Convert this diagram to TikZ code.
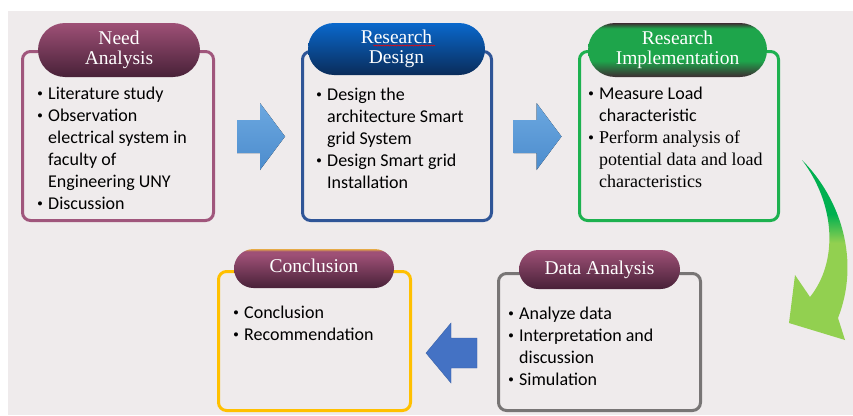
\documentclass[tikz,border=0pt]{standalone}
\usepackage{fontspec}
\setmainfont{Liberation Serif}
\newfontfamily\calfont{Carlito}
\usetikzlibrary{shapes.misc,decorations.pathmorphing}

\definecolor{bg}{RGB}{239,235,236}
\definecolor{needcol}{RGB}{160,86,124}
\definecolor{designcol}{RGB}{47,85,151}
\definecolor{implcol}{RGB}{29,177,79}
\definecolor{datacol}{RGB}{120,117,117}
\definecolor{conccol}{RGB}{255,192,0}
\definecolor{plumtop}{RGB}{158,80,118}
\definecolor{plumbot}{RGB}{72,33,56}
\definecolor{bluetop}{RGB}{10,104,204}
\definecolor{bluebot}{RGB}{10,44,90}
\definecolor{greenmid}{RGB}{30,165,75}
\definecolor{greendark}{RGB}{62,44,50}
\definecolor{goldtop}{RGB}{230,170,70}
\definecolor{arrowtop}{RGB}{108,168,224}
\definecolor{arrowbot}{RGB}{76,140,205}
\definecolor{backarrow}{RGB}{68,114,196}
\definecolor{arrowdark}{RGB}{0,176,80}
\definecolor{arrowlight}{RGB}{146,208,80}

\pgfdeclareverticalshading{greenbend}{100bp}{color(0bp)=(arrowlight); color(52bp)=(arrowlight); color(60bp)=(arrowdark); color(100bp)=(arrowdark)}
\pgfdeclareverticalshading{greenpill}{100bp}{color(0bp)=(greendark); color(25bp)=(greendark); color(40bp)=(greenmid); color(70bp)=(greenmid); color(75bp)=(greendark); color(100bp)=(greendark)}
\pgfdeclareverticalshading{goldpill}{100bp}{color(0bp)=(plumbot); color(25bp)=(plumbot); color(68bp)=(plumtop); color(72bp)=(plumtop); color(75bp)=(goldtop); color(100bp)=(goldtop)}

\newcommand\bul{\makebox[11pt][l]{\rmfamily\fontsize{17}{17}\selectfont\textbullet}}
\newcommand\bodyfont{\calfont\fontsize{18}{22}\selectfont}
\newcommand\serifbody{\rmfamily\fontsize{18}{21}\selectfont}

\tikzset{
  framebox/.style={draw, line width=3pt, rounded corners=8pt, fill=bg},
  titlepill/.style={rounded rectangle, text=white, align=center, inner sep=0pt,
    font=\fontsize{19.5}{19.5}\selectfont},
  plumpill/.style={titlepill, top color=plumtop, bottom color=plumbot},
  bodytext/.style={anchor=base west, inner sep=0pt, font=\bodyfont},
  blockarrow/.style={top color=arrowtop, bottom color=arrowbot},
}

\begin{document}
\begin{tikzpicture}[x=1pt,y=-1pt]

  \useasboundingbox (0,0) rectangle (853,415);
  \fill[bg] (8,11) rectangle (853,415);

  % frames
  \node[framebox, draw=needcol, minimum width=191pt, minimum height=169pt] (need) at (118,136) {};
  \node[framebox, draw=designcol, minimum width=189pt, minimum height=169pt] (design) at (397,136) {};
  \node[framebox, draw=implcol, minimum width=199pt, minimum height=169pt] (impl) at (679,136) {};
  \node[framebox, draw=datacol, minimum width=202pt, minimum height=137pt] (data) at (599.5,342) {};
  \node[framebox, draw=conccol, minimum width=192pt, minimum height=139pt] (conc) at (314.5,341) {};

  % title pills
  \node[plumpill, minimum width=162pt, minimum height=54pt] (needT) at (119,50) {Need\\Analysis};
  \node[titlepill, top color=bluetop, bottom color=bluebot, minimum width=177pt, minimum height=52pt]
    (designT) at (396.5,49) {Research\\Design};
  \node[titlepill, shading=greenpill, minimum width=179pt, minimum height=54pt]
    (implT) at (677.5,50) {Research\\Implementation};
  \node[plumpill, minimum width=161pt, minimum height=39pt] (dataT) at (599.5,269.5) {Data Analysis};
  \node[titlepill, shading=goldpill, minimum width=160pt, minimum height=39pt]
    (concT) at (314,268.5) {\strut Conclusion};

  \draw[red, line width=0.5pt, decorate, decoration={snake, amplitude=0.6pt, segment length=2.4pt}]
    ([xshift=-23.5pt,yshift=3.5pt]designT.center) -- ([xshift=38.5pt,yshift=3.5pt]designT.center);

  % bullet lists
  \node[bodytext] (needL) at (37,99) {\begin{tabular}[t]{@{}l@{}l@{}}
    \bul & Literature study\\
    \bul & Observation\\
         & electrical system in\\
         & faculty of\\
         & Engineering UNY\\
    \bul & Discussion
  \end{tabular}};

  \node[bodytext] (designL) at (316,100) {\begin{tabular}[t]{@{}l@{}l@{}}
    \bul & Design the\\
         & architecture Smart\\
         & grid System\\
    \bul & Design Smart grid\\
         & Installation
  \end{tabular}};

  \node[bodytext] (implL) at (588,99) {\begin{tabular}[t]{@{}l@{}l@{}}
    \bul & Measure Load\\
         & characteristic\\
    {\serifbody\bul} & {\serifbody Perform analysis of}\\
         & {\serifbody potential data and load}\\
         & {\serifbody characteristics}
  \end{tabular}};

  \node[bodytext] (dataL) at (508,319) {\begin{tabular}[t]{@{}l@{}l@{}}
    \bul & Analyze data\\
    \bul & Interpretation and\\
         & discussion\\
    \bul & Simulation
  \end{tabular}};

  \node[bodytext] (concL) at (233,318) {\begin{tabular}[t]{@{}l@{}l@{}}
    \bul & Conclusion\\
    \bul & Recommendation
  \end{tabular}};

  % block arrows
  \coordinate (ar1) at (261,136.5);
  \coordinate (ar2) at (537.5,136.5);
  \coordinate (ar3) at (451.5,353);

  \fill[blockarrow] (ar1) ++(-24,-16.5) -- ++(23,0) -- ++(0,-17) -- ++(25,33.5)
    -- ++(-25,33.5) -- ++(0,-17) -- ++(-23,0) -- cycle;
  \fill[blockarrow] (ar2) ++(-24,-16.5) -- ++(23,0) -- ++(0,-17) -- ++(25,33.5)
    -- ++(-25,33.5) -- ++(0,-17) -- ++(-23,0) -- cycle;
  \filldraw[fill=backarrow, draw=backarrow!85!black, line width=0.4pt]
    (ar3) ++(25.5,-15) -- ++(-26,0) -- ++(0,-15) -- ++(-25,30)
    -- ++(25,30) -- ++(0,-15) -- ++(26,0) -- cycle;

  % bent arrow down to data analysis
  \shade[shading=greenbend] (802,160) .. controls (842,200) and (860,262) .. (838,318)
    -- (845,340) -- (789,323) -- (795,275) -- (810,297)
    .. controls (838,262) and (836,205) .. (802,160) -- cycle;

\end{tikzpicture}
\end{document}
